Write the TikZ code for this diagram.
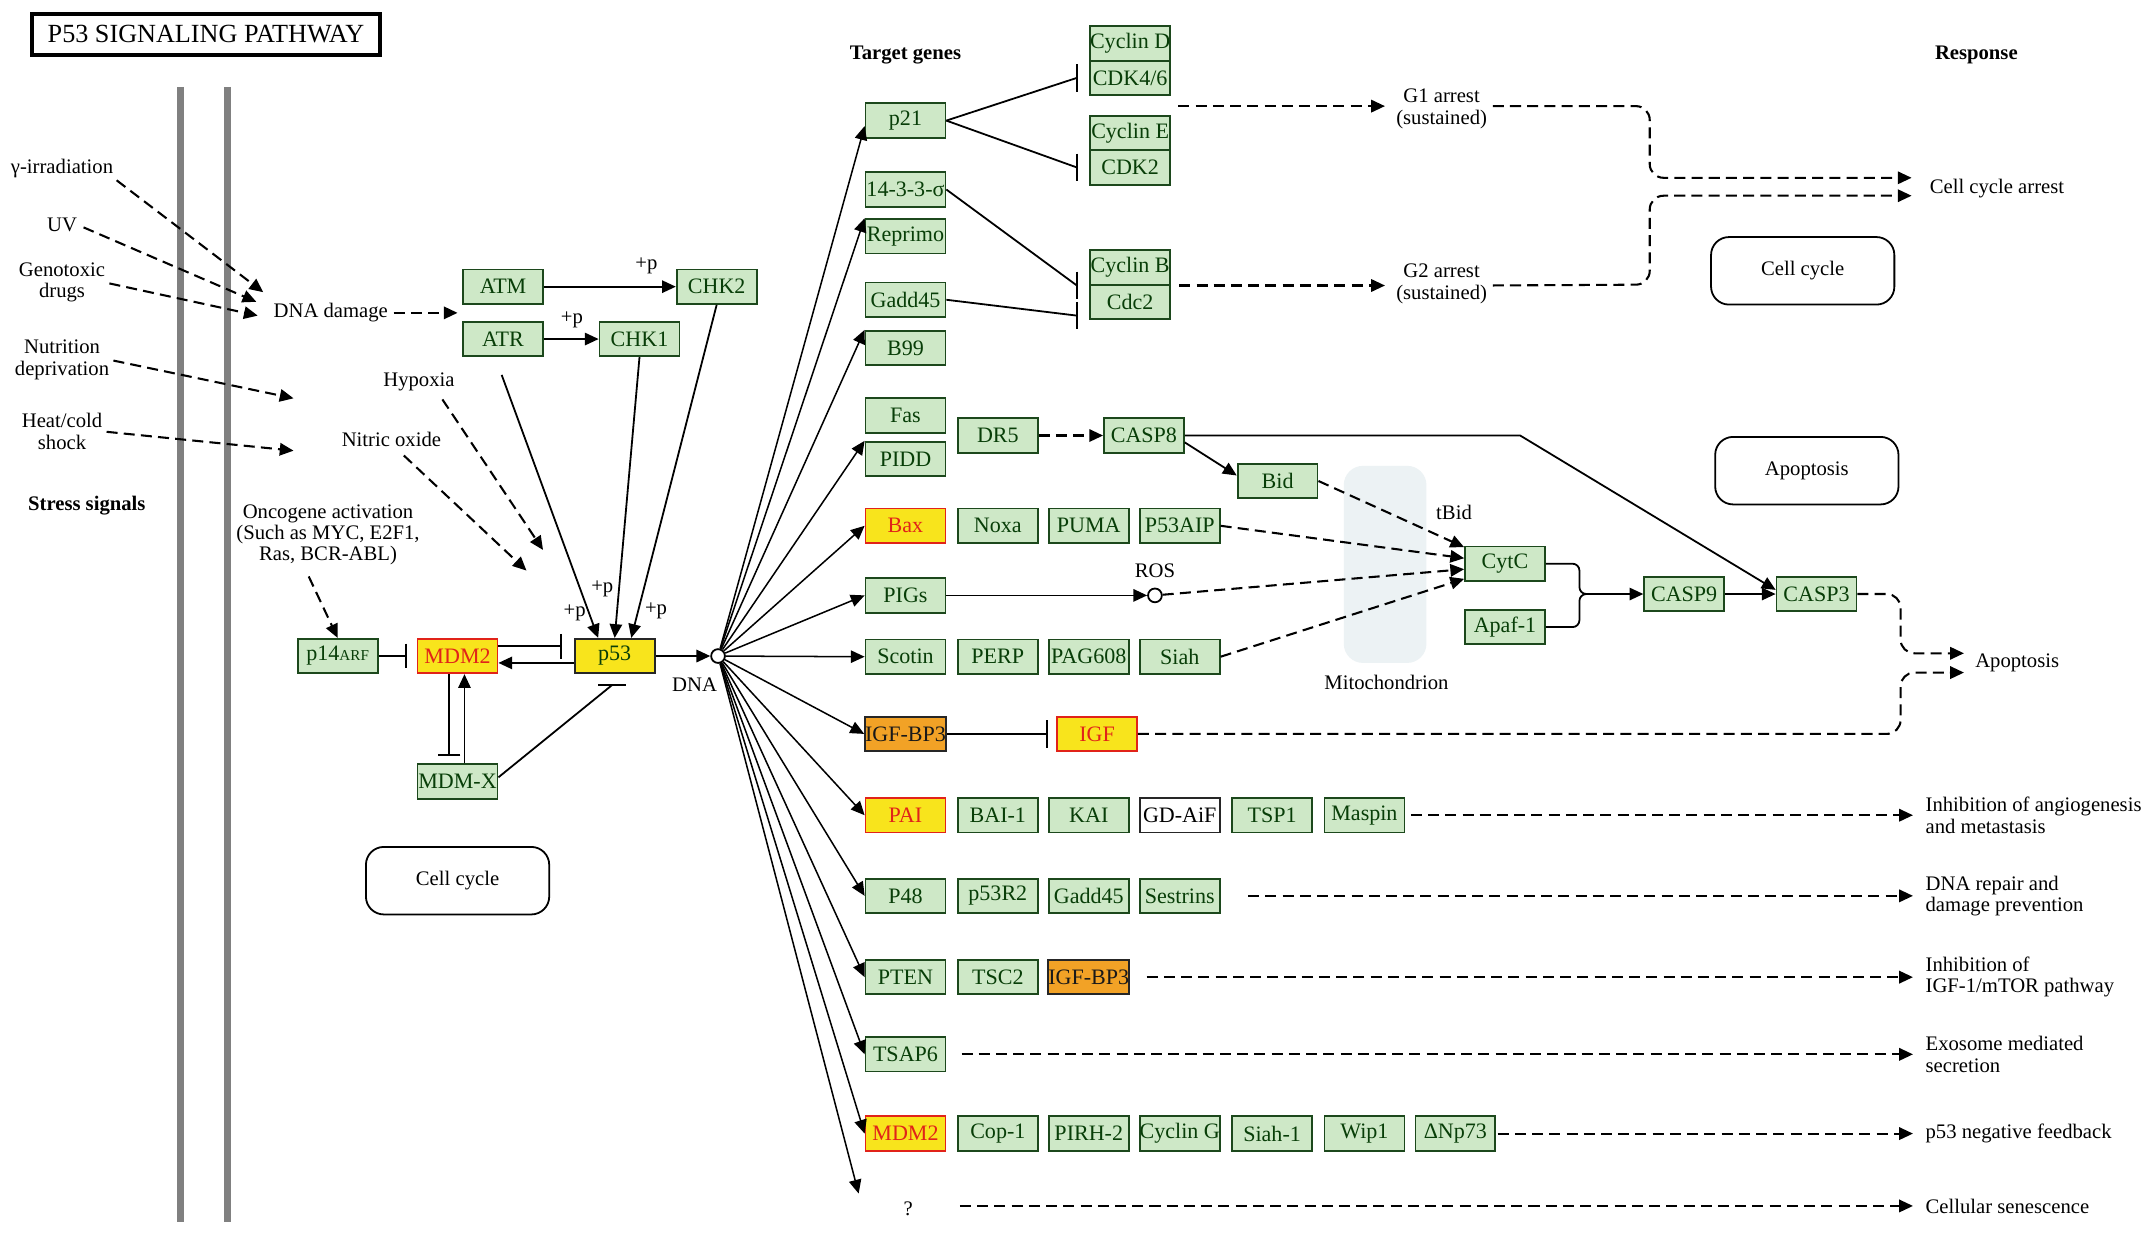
\documentclass[tikz,border=0pt]{standalone}
\usepackage{fontspec}
\setmainfont{Liberation Serif}
\usetikzlibrary{arrows.meta,calc}
\definecolor{gfill}{RGB}{206,232,199}
\definecolor{gdark}{RGB}{28,72,28}
\definecolor{gtext}{RGB}{8,62,8}
\definecolor{yel}{RGB}{248,228,28}
\definecolor{org}{RGB}{242,162,38}
\definecolor{redc}{RGB}{225,35,25}
\definecolor{mito}{RGB}{236,242,244}
\definecolor{memgray}{RGB}{128,128,128}
\newcommand\bx{\fontsize{16}{16}\selectfont}
\newcommand\lb{\fontsize{15}{15.5}\selectfont}
\newcommand\bxs{\fontsize{11}{11}\selectfont}
\newcommand\mkvbar[2]{\draw[inhbar] ([yshift=#2]#1) -- ([yshift=-#2]#1);}
\newcommand\mkhbar[2]{\draw[inhbar] ([xshift=#2]#1) -- ([xshift=-#2]#1);}
\begin{document}
\begin{tikzpicture}[x=1pt,y=-1pt,
  gene/.style={draw=gdark, fill=gfill, text=gtext, line width=1.3pt, minimum width=58pt, minimum height=25pt, inner sep=0pt, font=\bx},
  geneR/.style={gene, fill=yel, draw=redc, text=redc},
  geneY/.style={gene, fill=yel, draw=black!85},
  geneO/.style={gene, fill=org, draw=black!85, text=black!90},
  geneW/.style={gene, fill=white, draw=black!85, text=black},
  lbl/.style={font=\lb, inner sep=0pt, align=center, text=black},
  lbll/.style={lbl, align=left, anchor=west},
  bold/.style={lbl, font=\lb\bfseries},
  conn/.style={line width=1.3pt, draw=black},
  act/.style={conn, -{Triangle[length=10pt,width=9pt]}},
  dasharr/.style={act, line width=1.5pt, dash pattern=on 8pt off 4.5pt},
  inhbar/.style={line width=1.5pt, draw=black},
  pathbox/.style={draw, rounded corners=13pt, line width=1.3pt, font=\lb, minimum width=133pt, minimum height=49pt, inner sep=0pt},
  memb/.style={line width=5.5pt, draw=memgray},
  smallc/.style={circle, draw, line width=1.3pt, fill=white, minimum size=10pt, inner sep=0pt}
]
\useasboundingbox (0,0) rectangle (1560,895);
\fill[white] (0,0) rectangle (1560,895);

% background shapes
\node[fill=mito, rounded corners=14pt, minimum width=60pt, minimum height=143pt] (mitobox) at (1005,409.5) {};
\draw[memb] (131,63) -- (131,887);
\draw[memb] (165,63) -- (165,887);

% title
\node[draw, line width=3pt, minimum width=253pt, minimum height=30pt, inner sep=0pt, font=\fontsize{19}{19}\selectfont] (title) at (149.5,25) {P53\ SIGNALING\ PATHWAY};

% stress signals
\node[lbl] (gam) at (45,122) {γ-irradiation};
\node[lbl] (uv) at (45,163) {UV};
\node[lbl] (geno) at (45,205) {Genotoxic\\drugs};
\node[lbl] (nutr) at (45,261) {Nutrition\\deprivation};
\node[lbl] (heat) at (45,313) {Heat/cold\\shock};
\node[bold] (stress) at (63,367) {Stress signals};
\node[lbl] (dnad) at (240,227) {DNA damage};
\node[lbl] (hyp) at (304,277) {Hypoxia};
\node[lbl] (nitric) at (284,319) {Nitric oxide};
\node[lbl] (onco) at (238,388) {Oncogene activation\\(Such as MYC, E2F1,\\Ras, BCR-ABL)};

\coordinate (dd1) at (191,212);
\coordinate (dd2) at (186,219);
\coordinate (dd3) at (187,229);
\coordinate (nd) at (213,289);
\coordinate (hd) at (213,327);
\coordinate (hypend) at (394,399);
\coordinate (noend) at (382,414);
\coordinate (atmatr) at (332,227);
\coordinate (src1) at (364,272);

\draw[dasharr, shorten <=3pt] (gam.south east) -- (dd1);
\draw[dasharr, shorten <=5pt] (uv.east) -- (dd2);
\draw[dasharr, shorten <=3pt] (geno.east) -- (dd3);
\draw[dasharr, shorten <=3pt] (nutr.east) -- (nd);
\draw[dasharr, shorten <=3pt] (heat.east) -- (hd);
\draw[dasharr, shorten <=4pt] (dnad.east) -- (atmatr);
\draw[dasharr] ([xshift=17pt,yshift=-6pt]hyp.south) -- (hypend);
\draw[dasharr] ([xshift=9pt,yshift=-6pt]nitric.south) -- (noend);

% upstream kinases
\node[gene] (atm) at (365,208) {ATM};
\node[gene] (atr) at (365,246) {ATR};
\node[gene] (chk2) at (520,208) {CHK2};
\node[gene] (chk1) at (464,246) {CHK1};
\draw[act] (atm) -- (chk2);
\draw[act] (atr) -- (chk1);
\node[lbl] (pp1) at (469,193) {+p};
\node[lbl] (pp2) at (415,232) {+p};

% p53 core
\node[gene] (p14) at (245,476) {p14\bxs ARF};
\node[geneR] (mdm2) at (332,476) {MDM2};
\node[geneY] (p53) at (446,476) {p53};
\node[gene] (mdmx) at (332,567) {MDM-X};
\node[smallc] (dna) at (521,476) {};
\node[lbl] (dnal) at (504,497) {DNA};
\draw[dasharr] ([xshift=-14pt,yshift=-8pt]onco.south) -- (p14.north);

\draw[act] (src1) -- ([xshift=-12pt]p53.north);
\draw[act] (chk1.south) -- (p53.north);
\draw[act] (chk2.south) -- ([xshift=12pt]p53.north);
\node[lbl] (pp3) at (417,445) {+p};
\node[lbl] (pp4) at (437,427) {+p};
\node[lbl] (pp5) at (476,443) {+p};

\coordinate (bpm) at ([xshift=-8pt]mdm2.west);
\draw[conn] (p14.east) -- (bpm); \mkvbar{bpm}{9pt}
\coordinate (bmp) at ([xshift=-9pt,yshift=7pt]p53.west);
\draw[conn] ([yshift=7pt]mdm2.east) -- (bmp); \mkvbar{bmp}{9pt}
\draw[act] ([yshift=-5pt]p53.west) -- ([yshift=-5pt]mdm2.east);
\coordinate (bmx) at ([xshift=-6pt,yshift=6pt]mdmx.north);
\draw[conn] ([xshift=-6pt]mdm2.south) -- (bmx); \mkhbar{bmx}{8pt}
\draw[act] ([xshift=5pt]mdmx.north) -- ([xshift=5pt]mdm2.south);
\coordinate (bxp) at ([xshift=-2pt,yshift=-8pt]p53.south);
\draw[conn] ([yshift=3pt]mdmx.east) -- (bxp); \mkhbar{bxp}{10pt}
\draw[act] (p53) -- (dna);

\node[pathbox] (ccl) at (332,639) {Cell cycle};

% headings
\node[bold] (tg) at (657,40) {Target genes};
\node[bold] (resp) at (1434,40) {Response};

% target genes
\node[gene] (p21) at (657,87.5) {p21};
\node[gene] (s1433) at (657,137.5) {14-3-3-σ};
\node[gene] (repr) at (657,171.5) {Reprimo};
\node[gene] (gadd) at (657,217.5) {Gadd45};
\node[gene] (b99) at (657,252.5) {B99};
\node[gene] (fas) at (657,301.5) {Fas};
\node[gene] (pidd) at (657,333) {PIDD};
\node[gene] (dr5) at (724,316) {DR5};
\node[gene] (casp8) at (830,316) {CASP8};
\node[gene] (bid) at (927,349) {Bid};
\node[geneR] (bax) at (657,381.5) {Bax};
\node[gene] (noxa) at (724,381.5) {Noxa};
\node[gene] (puma) at (790,381.5) {PUMA};
\node[gene] (p53aip) at (856,381.5) {P53AIP};
\node[gene] (pigs) at (657,432) {PIGs};
\node[smallc] (ros) at (838,432) {};
\node[lbl] (rosl) at (838,414) {ROS};
\node[gene] (scotin) at (657,476.5) {Scotin};
\node[gene] (perp) at (724,476.5) {PERP};
\node[gene] (pag) at (790,476.5) {PAG608};
\node[gene] (siah) at (856,476.5) {Siah};
\node[geneO] (igfbp) at (657,532.5) {IGF-BP3};
\node[geneR] (igf) at (796,532.5) {IGF};
\node[geneR] (pai) at (657,591.5) {PAI};
\node[gene] (bai) at (724,591.5) {BAI-1};
\node[gene] (kai) at (790,591.5) {KAI};
\node[geneW] (gdaif) at (856,591.5) {GD-AiF};
\node[gene] (tsp1) at (923,591.5) {TSP1};
\node[gene] (maspin) at (990,591.5) {Maspin};
\node[gene] (p48) at (657,650) {P48};
\node[gene] (p53r2) at (724,650) {p53R2};
\node[gene] (gadd2) at (790,650) {Gadd45};
\node[gene] (sestr) at (856,650) {Sestrins};
\node[gene] (pten) at (657,709) {PTEN};
\node[gene] (tsc2) at (724,709) {TSC2};
\node[geneO] (igfbp2) at (790,709) {IGF-BP3};
\node[gene] (tsap6) at (657,765) {TSAP6};
\node[geneR] (mdm2b) at (657,822.5) {MDM2};
\node[gene] (cop1) at (724,822.5) {Cop-1};
\node[gene] (pirh2) at (790,822.5) {PIRH-2};
\node[gene] (cycg) at (856,822.5) {Cyclin G};
\node[gene] (siah1) at (923,822.5) {Siah-1};
\node[gene] (wip1) at (990,822.5) {Wip1};
\node[gene] (dnp73) at (1056,822.5) {ΔNp73};
\node[lbl] (q) at (659,877) {?};
\coordinate (qa) at (623,866);
\coordinate (p21a) at ([yshift=-4pt]p21.west);

% fan from DNA
\foreach \t in {p21a, repr.north west, b99.north west, pidd.north west, bax.west, pigs.west, scotin.west, igfbp.west, pai.west, p48.west, pten.west, tsap6.west, mdm2b.west, qa}
  \draw[act, line width=1.1pt] (dna) -- (\t);

% cyclins
\node[gene] (cycd) at (820,31.5) {Cyclin D};
\node[gene] (cdk46) at (820,56.5) {CDK4/6};
\node[gene] (cyce) at (820,96.5) {Cyclin E};
\node[gene] (cdk2) at (820,121.5) {CDK2};
\node[gene] (cycb) at (820,194) {Cyclin B};
\node[gene] (cdc2) at (820,219) {Cdc2};

\coordinate (bi1) at ([xshift=-9pt]cdk46.west);
\draw[conn] (p21.east) -- (bi1); \mkvbar{bi1}{10pt}
\coordinate (bi2) at ([xshift=-9pt]cdk2.west);
\draw[conn] (p21.east) -- (bi2); \mkvbar{bi2}{10pt}
\coordinate (bi3) at ([xshift=-9pt]cycb.south west);
\draw[conn] (s1433.east) -- (bi3); \mkvbar{bi3}{10pt}
\coordinate (bi4) at ([xshift=-9pt,yshift=-10pt]cdc2.west);
\draw[conn] (gadd.east) -- (bi4); \mkvbar{bi4}{10pt}

\node[lbl] (g1) at (1046,79) {G1 arrest\\(sustained)};
\node[lbl] (g2) at (1046,206) {G2 arrest\\(sustained)};
\coordinate (g1s) at (855,77);
\draw[dasharr, shorten >=8pt] (g1s) -- (g1.west |- g1s);
\draw[dasharr, shorten <=6pt, shorten >=8pt] (cycb.south east) -- (g2.west |- cycb.south east);
\coordinate (cca1) at (1387,129);
\coordinate (cca2) at (1387,142);
\draw[dasharr, rounded corners=10pt, shorten <=4pt] (g1.east |- g1s) -- (1197,77) -- (1197,129) -- (cca1);
\draw[dasharr, rounded corners=10pt, shorten <=4pt] (g2.east |- cycb.south east) -- (1197,206.5) -- (1197,142) -- (cca2);
\node[lbll] (ccat) at (1400,137) {Cell cycle arrest};
\node[pathbox] (ccr) at (1308,196.5) {Cell cycle};
\node[pathbox] (apobox) at (1311,341.5) {Apoptosis};

% apoptosis
\node[gene] (cytc) at (1092,409) {CytC};
\node[gene] (apaf) at (1092,455) {Apaf-1};
\node[gene] (casp9) at (1222,431) {CASP9};
\node[gene] (casp3) at (1318,431) {CASP3};
\node[lbl] (mitol) at (1006,495) {Mitochondrion};
\node[lbl] (tbid) at (1055,372) {tBid};

\draw[dasharr] (dr5) -- (casp8);
\draw[act] ([yshift=-5pt]casp8.east) -- ([yshift=4pt]bid.west);
\draw[act] (casp8.east) -- (1103,316) -- ([yshift=3pt]casp3.west);
\draw[dasharr] (bid.east) -- ([yshift=12pt]cytc.west);
\draw[dasharr] (p53aip.east) -- ([yshift=4pt]cytc.west);
\draw[act] (pigs) -- (ros);
\draw[dasharr] (ros) -- ([yshift=-4pt]cytc.west);
\draw[dasharr] (siah.east) -- ([yshift=-11pt]cytc.west);

\coordinate (brk) at (1150,431);
\draw[conn, rounded corners=5pt] (cytc.east) -- (1146,409) -- (1146,431) -- (brk);
\draw[conn, rounded corners=5pt] (apaf.east) -- (1146,455) -- (1146,431) -- (brk);
\draw[act] (brk) -- (casp9);
\draw[act] (casp9) -- (casp3);

\coordinate (bi5) at ([xshift=-7pt]igf.west);
\draw[conn] (igfbp.east) -- (bi5); \mkvbar{bi5}{10pt}

\node[lbll] (apot) at (1433,481) {Apoptosis};
\coordinate (ap1) at (1425,474);
\coordinate (ap2) at (1425,488);
\draw[dasharr, rounded corners=10pt] (casp3.east) -- (1379,431) -- (1379,474) -- (ap1);
\draw[dasharr, rounded corners=10pt] (igf.east) -- (1379,532.5) -- (1379,488) -- (ap2);

% responses
\node[lbll] (r1) at (1397,591.5) {Inhibition of angiogenesis\\and metastasis};
\node[lbll] (r2) at (1397,650) {DNA repair and\\damage prevention};
\node[lbll] (r3) at (1397,709) {Inhibition of\\IGF-1/mTOR pathway};
\node[lbll] (r4) at (1397,765) {Exosome mediated\\secretion};
\node[lbll] (r5) at (1397,822.5) {p53 negative feedback};
\node[lbll] (r6) at (1397,875) {Cellular senescence};
\draw[dasharr, shorten <=4pt, shorten >=9pt] (maspin.east) -- (r1.west);
\draw[dasharr, shorten <=20pt, shorten >=9pt] (sestr.east) -- (r2.west);
\draw[dasharr, shorten <=12pt, shorten >=9pt] (igfbp2.east) -- (r3.west);
\draw[dasharr, shorten <=11pt, shorten >=9pt] (tsap6.east) -- (r4.west);
\draw[dasharr, shorten <=1pt, shorten >=9pt] (dnp73.east) -- (r5.west);
\draw[dasharr, shorten <=34pt, shorten >=9pt] (q.east |- r6.west) -- (r6.west);
\end{tikzpicture}
\end{document}
